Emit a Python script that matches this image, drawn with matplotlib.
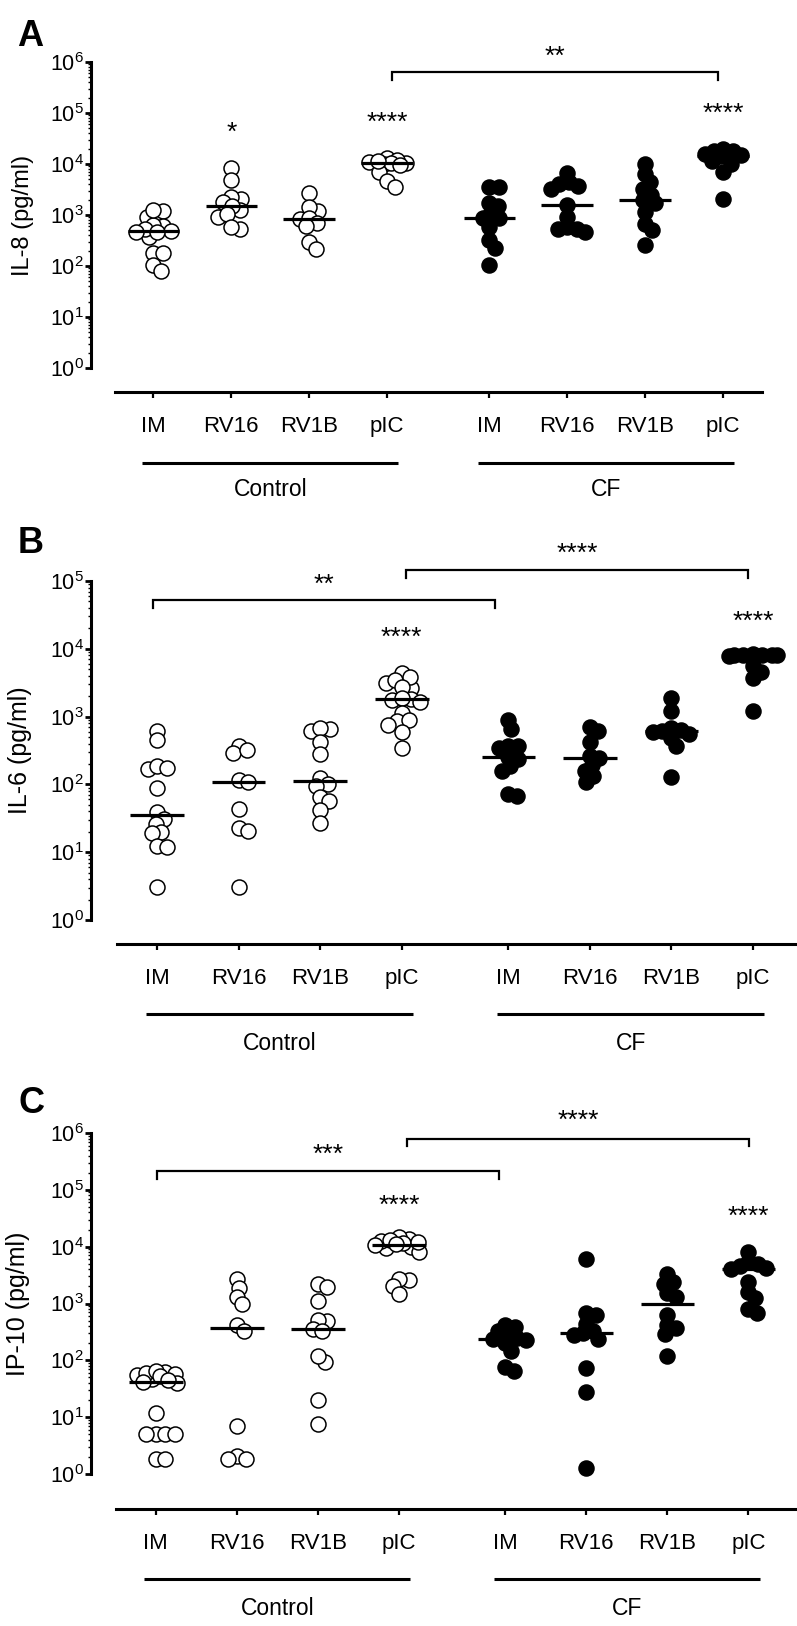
import matplotlib.pyplot as plt
import numpy as np
from matplotlib import ticker
from matplotlib.transforms import blended_transform_factory

plt.rcParams["font.family"] = "Liberation Sans"
plt.rcParams["mathtext.fontset"] = "custom"
plt.rcParams["mathtext.rm"] = "Liberation Sans"
plt.rcParams["mathtext.default"] = "regular"

W, H = 797, 1626

treatments = ["IM", "RV16", "RV1B", "pIC"]
groups = ["Control", "CF"]
cf_gap = 1.31
positions = np.r_[np.arange(4), np.arange(4) + 3 + cf_gap]

# IL-8 (pg/ml), one list per treatment
il8_control = [
    [1200, 920, 610, 480, 370, 630, 530, 1260, 178, 178, 105, 80, 455, 470],
    [8200, 4900, 2100, 2300, 1800, 1260, 1500, 930, 1040, 530, 590],
    [2760, 1190, 1440, 830, 890, 690, 297, 218, 600],
    [12900, 10700, 10000, 11000, 12000, 10500, 7100, 9500, 4700, 3600, 11500],
]
il8_cf = [
    [3560, 3560, 1700, 1470, 1120, 890, 890, 590, 325, 230, 103],
    [6600, 3220, 4050, 3740, 4350, 1560, 930, 540, 455, 530, 585],
    [10000, 6340, 4350, 3220, 2450, 1960, 1690, 1150, 680, 510, 260],
    [17800, 19800, 18300, 14500, 14500, 11700, 10000, 7000, 2040, 15000, 16000],
]

# IL-6 (pg/ml)
il6_control = [
    [620, 445, 170, 185, 175, 89, 39, 31, 26, 20, 19, 12.3, 11.8, 3.1],
    [372, 290, 325, 118, 108, 44, 23, 20.4, 3.1],
    [660, 620, 670, 415, 283, 125, 103, 94, 65, 56, 42, 27],
    [4400, 3100, 3500, 2600, 3800, 2700, 1780, 1820, 1650, 1850, 1120, 850,
     900, 760, 590, 350],
]
il6_cf = [
    [895, 660, 372, 345, 365, 236, 253, 185, 156, 67, 73],
    [605, 705, 417, 265, 245, 195, 156, 132, 107],
    [1870, 1230, 680, 645, 560, 480, 363, 129, 620, 600],
    [8200, 8000, 8300, 8200, 8000, 8100, 7900, 5500, 4600, 3700, 1200],
]

# IP-10 (pg/ml)
ip10_control = [
    [55, 63, 47, 60, 65, 52, 58, 42, 40, 45, 11.7, 5.0, 5.0, 5.0, 5.0, 1.8, 1.8],
    [2740, 1900, 1320, 970, 415, 330, 6.9, 2.1, 1.83, 1.83],
    [2170, 1990, 1100, 490, 505, 363, 330, 94, 120, 20, 7.5],
    [13500, 14500, 10000, 9500, 8000, 12500, 11500, 12000, 13000, 10500,
     2600, 2700, 2000, 1450, 11000],
]
ip10_cf = [
    [391, 415, 288, 252, 330, 147, 65, 75, 230, 240, 200],
    [6140, 620, 675, 430, 330, 300, 276, 235, 72, 28, 1.3],
    [3250, 2400, 2170, 1510, 1320, 620, 415, 377, 288, 120],
    [8100, 5340, 4000, 4260, 2400, 1590, 1230, 690, 815, 4500, 5000],
]

# significance: (category index, log10 height, label)
il8_stars = [(1, 4.76, "*"), (3, 4.96, "****"), (7, 5.14, "****")]
il6_stars = [(3, 4.28, "****"), (7, 4.51, "****")]
ip10_stars = [(3, 4.86, "****"), (7, 4.65, "****")]
# brackets: (x left, x right, log10 bar, log10 foot, log10 text, label)
il8_brackets = [(3.06, 7.24, 5.80, 5.65, 6.24, "**")]
il6_brackets = [(-0.05, 4.15, 4.72, 4.60, 5.06, "**"),
                (3.06, 7.25, 5.16, 5.04, 5.51, "****")]
ip10_brackets = [(0.02, 4.23, 5.33, 5.19, 5.75, "***"),
                 (3.10, 7.32, 5.89, 5.77, 6.35, "****")]

panels = [
    dict(letter="A", letter_xy=(30, 37), ylabel="IL-8 (pg/ml)", ylabel_x=23,
         ylabel_size=17, control=il8_control, cf=il8_cf, stars=il8_stars,
         brackets=il8_brackets, ytop=6, box=(91, 62, 762, 368),
         xlim=(-0.8, 7.81), drop=24, line_y=463, text_y=490),
    dict(letter="B", letter_xy=(31, 543), ylabel="IL-6 (pg/ml)", ylabel_x=20,
         ylabel_size=18, control=il6_control, cf=il6_cf, stars=il6_stars,
         brackets=il6_brackets, ytop=5, box=(91, 581, 797, 920),
         xlim=(-0.81, 7.85), drop=24, line_y=1014, text_y=1043),
    dict(letter="C", letter_xy=(31, 1103), ylabel="IP-10 (pg/ml)", ylabel_x=18,
         ylabel_size=18, control=ip10_control, cf=ip10_cf, stars=ip10_stars,
         brackets=ip10_brackets, ytop=6, box=(91, 1133, 797, 1474),
         xlim=(-0.80, 7.91), drop=35, line_y=1579, text_y=1608),
]

MS = 10.8  # marker diameter, points
DIAM_PX = MS * 100 / 72


def swarm(ax, x0, vals, min_frac=0.62, max_units=0.3):
    # compact beeswarm in pixel space; allows overlap when the band is full
    vals = np.asarray(vals, dtype=float)
    tr = ax.transData
    ys = tr.transform(np.column_stack([np.full(len(vals), x0), vals]))[:, 1]
    ppu = tr.transform([[1, 1]])[0, 0] - tr.transform([[0, 1]])[0, 0]
    dmin = DIAM_PX * min_frac
    max_px = max_units * ppu
    cands = [0.0]
    k = 1
    while k * 0.5 <= max_px:
        cands += [k * 0.5, -k * 0.5]
        k += 1
    placed = []
    xs = np.zeros(len(vals))
    for i in np.argsort(-vals):
        best, best_d = 0.0, -1.0
        for dx in cands:
            if placed:
                d = min(np.hypot(dx - px, ys[i] - py) for px, py in placed)
            else:
                d = np.inf
            if d >= dmin:
                best = dx
                break
            if d > best_d:
                best, best_d = dx, d
        placed.append((best, ys[i]))
        xs[i] = x0 + best / ppu
    return xs


fig = plt.figure(figsize=(W / 100, H / 100), dpi=100)

for p in panels:
    l, t, r, b = p["box"]
    ax = fig.add_axes([l / W, 1 - b / H, (r - l) / W, (b - t) / H])
    ax.set_yscale("log")
    ax.set_ylim(1, 10 ** p["ytop"])
    ax.set_xlim(*p["xlim"])

    ax.spines["top"].set_visible(False)
    ax.spines["right"].set_visible(False)
    ax.spines["left"].set_linewidth(2.2)
    ax.spines["bottom"].set_linewidth(2.2)
    ax.spines["bottom"].set_position(("outward", p["drop"] * 0.72))
    ax.spines["bottom"].set_bounds(-0.49, p["xlim"][1])

    ax.yaxis.set_major_locator(ticker.LogLocator(base=10, numticks=10))
    ax.yaxis.set_minor_locator(ticker.LogLocator(base=10, subs=np.arange(2, 10), numticks=20))
    ax.yaxis.set_minor_formatter(ticker.NullFormatter())
    ax.tick_params(axis="y", which="major", length=4, width=2, pad=1, labelsize=15.5)
    ax.tick_params(axis="y", which="minor", length=2.5, width=1)

    ax.set_xticks(positions, treatments * 2)
    ax.tick_params(axis="x", length=4.5, width=1.6, pad=13, labelsize=16)

    all_groups = list(p["control"]) + list(p["cf"])
    for i, vals in enumerate(all_groups):
        x0 = positions[i]
        xs = swarm(ax, x0, vals)
        face = "white" if i < 4 else "black"
        ax.scatter(xs, vals, s=MS ** 2, facecolors=face, edgecolors="black",
                   linewidths=1.1, zorder=3, clip_on=False)
        med = np.median(vals)
        ax.plot([x0 - 0.33, x0 + 0.33], [med, med], color="black", lw=2.3,
                zorder=4, solid_capstyle="butt")

    for idx, ly, s in p["stars"]:
        ax.annotate(s, (positions[idx], 10 ** ly), xytext=(0, -10.5),
                    textcoords="offset points", ha="center", va="baseline",
                    fontsize=19, annotation_clip=False)

    for x1, x2, yb, yf, yt, s in p["brackets"]:
        ax.plot([x1, x1, x2, x2], [10 ** yf, 10 ** yb, 10 ** yb, 10 ** yf],
                color="black", lw=1.6, clip_on=False, solid_joinstyle="miter")
        ax.annotate(s, ((x1 + x2) / 2, 10 ** yt), xytext=(0, -10.5),
                    textcoords="offset points", ha="center", va="baseline",
                    fontsize=19, annotation_clip=False)

    trans = blended_transform_factory(ax.transData, fig.transFigure)
    for g, name in enumerate(groups):
        xa = positions[4 * g] - 0.14
        xb = positions[4 * g + 3] + 0.14
        ax.plot([xa, xb], [1 - p["line_y"] / H] * 2, color="black", lw=2.2,
                transform=trans, clip_on=False, solid_capstyle="butt")
        ax.text((xa + xb) / 2, 1 - p["text_y"] / H, name, transform=trans,
                ha="center", va="center", fontsize=16.5)

    fig.text(p["ylabel_x"] / W, 1 - (t + b) / 2 / H, p["ylabel"], rotation=90,
             ha="center", va="center", fontsize=p["ylabel_size"])
    fig.text(p["letter_xy"][0] / W, 1 - p["letter_xy"][1] / H, p["letter"],
             ha="center", va="center", fontsize=26, fontweight="bold")

fig.savefig("out.png", dpi=100)
